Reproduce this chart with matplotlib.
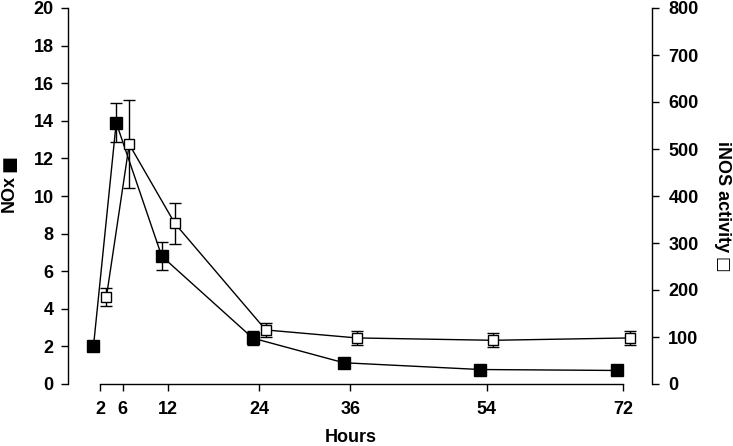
import matplotlib
matplotlib.use("Agg")
import matplotlib.pyplot as plt
from matplotlib.transforms import offset_copy

plt.rcParams['font.family'] = ['Liberation Sans', 'DejaVu Sans']
plt.rcParams['font.weight'] = 'bold'

# time points (tick labels) and where they sit on the axis
hour_labels = ['2', '6', '12', '24', '36', '54', '72']
hour_pos = [3, 6, 12, 24, 36, 54, 72]

# NOx (left axis)
nox = [2.0, 13.9, 6.8, 2.44, 1.13, 0.77, 0.72]
nox_err = [0.0, 1.05, 0.75, 0.37, 0.0, 0.0, 0.0]

# iNOS activity (right axis)
inos = [186, 510, 342, 115, 98, 93, 98]
inos_err = [19, 94, 44, 14, 14, 15, 15]

fig = plt.figure(figsize=(7.33, 4.46), dpi=100)
ax = fig.add_axes([67.5 / 733, 1 - 384 / 446, (651.7 - 67.5) / 733, (384 - 8) / 446])
ax2 = ax.twinx()

# black and white markers are pushed a few pixels apart, as in the original
shift_l = offset_copy(ax.transData, fig=fig, x=-6.5, y=0, units='dots')
shift_r = offset_copy(ax2.transData, fig=fig, x=6.5, y=0, units='dots')

ax.errorbar(hour_pos, nox, yerr=nox_err, transform=shift_l, color='black', lw=1.0,
            marker='s', ms=8.6, mfc='black', mec='black', capsize=4, capthick=1.0,
            elinewidth=1.0, zorder=3)
ax2.errorbar(hour_pos, inos, yerr=inos_err, transform=shift_r, color='black', lw=1.0,
             marker='s', ms=7.6, mfc='white', mec='black', mew=1.0, capsize=4,
             capthick=1.0, elinewidth=1.0, zorder=3)

ax.set_xlim(-1.28, 75.74)
ax.set_ylim(0, 20)
ax2.set_ylim(0, 800)
ax.set_xticks(hour_pos)
ax.set_xticklabels(hour_labels)
ax.set_yticks(range(0, 21, 2))
ax2.set_yticks(range(0, 801, 100))

for a in (ax, ax2):
    a.spines['top'].set_visible(False)
    for s in a.spines.values():
        s.set_linewidth(1.0)
ax.spines['right'].set_visible(False)
ax2.spines['left'].set_visible(False)
ax2.spines['bottom'].set_visible(False)
ax.spines['bottom'].set_bounds(hour_pos[0], hour_pos[-1])

ax.tick_params(axis='y', direction='out', length=5, width=1.0, pad=5, labelsize=13)
ax.tick_params(axis='x', direction='out', length=5, width=1.0, pad=7, labelsize=13)
ax2.tick_params(axis='y', direction='out', length=5, width=1.0, pad=7, labelsize=13)
for lab in ax.get_xticklabels() + ax.get_yticklabels() + ax2.get_yticklabels():
    lab.set_fontweight('bold')

fig.text(351 / 733, 1 - 437 / 446, 'Hours', ha='center', va='center',
         fontsize=13, fontweight='bold')
fig.text(9 / 733, 1 - 212 / 446, 'NOx', rotation=90, ha='center', va='bottom',
         fontsize=13, fontweight='bold')
fig.text(9 / 733, 1 - 163 / 446, '\u25a0', rotation=90, ha='center', va='center',
         fontsize=13, family='DejaVu Sans')
fig.text(722 / 733, 1 - 141 / 446, 'iNOS activity', rotation=270, ha='center',
         va='top', fontsize=13, fontweight='bold')
fig.text(722 / 733, 1 - 265 / 446, '\u25a1', rotation=270, ha='center',
         va='center', fontsize=12, family='DejaVu Sans')

fig.savefig('out.png', dpi=100)
